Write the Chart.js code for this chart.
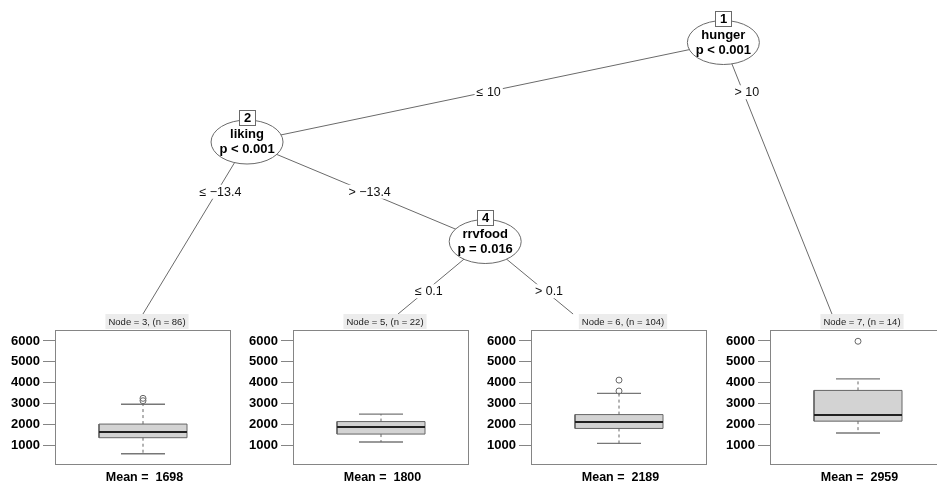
<!DOCTYPE html>
<html>
<head>
<meta charset="utf-8">
<script src="https://cdn.jsdelivr.net/npm/chart.js@4.4.1/dist/chart.umd.min.js"></script>
<style>
html, body { margin: 0; padding: 0; background: #ffffff; overflow: hidden; width: 937px; height: 483px; }
#wrap { position: relative; width: 937px; height: 483px; overflow: hidden; }
canvas { position: absolute; }
</style>
</head>
<body>
<div id="wrap">
  <canvas id="tree"></canvas>
  <canvas id="p0"></canvas>
  <canvas id="p1"></canvas>
  <canvas id="p2"></canvas>
  <canvas id="p3"></canvas>
</div>
<script>
// ---------------- DATA ----------------
const innerIds = [1, 2, 4];
const innerVars = ['hunger', 'liking', 'rrvfood'];
const innerP = ['p < 0.001', 'p < 0.001', 'p = 0.016'];
const edgeFrom = [1, 1, 2, 2, 4, 4];
const edgeTo = [2, 7, 3, 4, 5, 6];
const edgeLabels = ['\u2264 10', '> 10', '\u2264 \u221213.4', '> \u221213.4', '\u2264 0.1', '> 0.1'];
const termIds = [3, 5, 6, 7];
const termN = [86, 22, 104, 14];
const termMean = [1698, 1800, 2189, 2959];
const whiskerLow = [585, 1150, 1085, 1580];
const boxQ1 = [1355, 1530, 1800, 2150];
const boxMedian = [1625, 1865, 2115, 2450];
const boxQ3 = [2010, 2130, 2465, 3625];
const whiskerHigh = [2960, 2485, 3485, 4180];
const outliers = [[3130, 3245], [], [3595, 4120], [5985]];
const yTicks = [1000, 2000, 3000, 4000, 5000, 6000];

// ---------------- LAYOUT / STYLE ----------------
const L = {
  W: 937, H: 483,
  slot1Px: 147, slotPx: 238.17,
  depth0Px: 42.5, depthPx: 99.5,
  innerSlot: [3.42, 1.42, 2.42],
  innerDepth: [0, 1, 2],
  termSlot: [0.983, 2.054, 2.789, 3.876],
  termDepth: 2.729,
  ellRx: 36, ellRy: 22, idW: 16, idH: 15, idDy: 24.5, textDy: 7.5,
  labelDx: 3.5,
  panelLeft0: 55, panelStep: 238.2, panelW: 176, panelTop: 330, panelBottom: 465,
  axisW: 55, canvasTop: 310, padRight: 10,
  nodeLabelDx: 4, meanDx: 1.5,
  boxLeft: 0.25, boxRight: 0.75, capLeft: 0.375, capRight: 0.625, mid: 0.5
};
const FONT = 'Liberation Sans, Arial, Helvetica, sans-serif';
const LINE = '#6a6a6a';

function nodePos(id) {
  let k = innerIds.indexOf(id);
  if (k >= 0) return { x: L.innerSlot[k], y: L.innerDepth[k] };
  k = termIds.indexOf(id);
  return { x: L.termSlot[k], y: L.termDepth };
}

// ---------------- TREE ----------------
(function () {
  const cv = document.getElementById('tree');
  cv.width = L.W; cv.height = L.H;
  cv.style.width = L.W + 'px'; cv.style.height = L.H + 'px';
  cv.style.left = '0px'; cv.style.top = '0px';
  const xMin = 1 - L.slot1Px / L.slotPx;
  const yMin = -L.depth0Px / L.depthPx;

  const edgeSets = edgeFrom.map((f, i) => ({
    type: 'line',
    data: [nodePos(f), nodePos(edgeTo[i])],
    borderColor: LINE, borderWidth: 1, pointRadius: 0, fill: false, tension: 0
  }));

  const treePlugin = {
    id: 'treeNodes',
    afterDatasetsDraw(chart) {
      const ctx = chart.ctx;
      const xs = chart.scales.x, ys = chart.scales.y;
      ctx.save();
      ctx.font = '12.5px ' + FONT;
      ctx.textAlign = 'center';
      ctx.textBaseline = 'middle';
      edgeFrom.forEach((f, i) => {
        const p = nodePos(f), c = nodePos(edgeTo[i]);
        const yl = p.y + 0.5;
        const t = (yl - p.y) / (c.y - p.y);
        const xl = p.x + t * (c.x - p.x);
        const px = xs.getPixelForValue(xl) + L.labelDx;
        const py = ys.getPixelForValue(yl);
        const tw = ctx.measureText(edgeLabels[i]).width;
        ctx.fillStyle = '#ffffff';
        ctx.fillRect(px - tw / 2 - 2, py - 7, tw + 4, 14);
        ctx.fillStyle = '#111111';
        ctx.fillText(edgeLabels[i], px, py + 0.5);
      });
      innerIds.forEach((id, k) => {
        const p = nodePos(id);
        const cx = xs.getPixelForValue(p.x), cy = ys.getPixelForValue(p.y);
        ctx.beginPath();
        ctx.ellipse(cx, cy, L.ellRx, L.ellRy, 0, 0, Math.PI * 2);
        ctx.fillStyle = '#ffffff';
        ctx.fill();
        ctx.strokeStyle = LINE;
        ctx.lineWidth = 1;
        ctx.stroke();
        const bx = Math.round(cx - L.idW / 2) + 0.5, by = Math.round(cy - L.idDy - L.idH / 2) + 0.5;
        ctx.fillStyle = '#ffffff';
        ctx.fillRect(bx, by, L.idW, L.idH);
        ctx.strokeRect(bx, by, L.idW, L.idH);
        ctx.fillStyle = '#000000';
        ctx.font = 'bold 13px ' + FONT;
        ctx.fillText(String(id), bx + L.idW / 2, by + L.idH / 2 + 0.5);
        ctx.fillText(innerVars[k], cx, cy - L.textDy);
        ctx.fillText(innerP[k], cx, cy + L.textDy);
      });
      ctx.restore();
    }
  };

  new Chart(cv.getContext('2d'), {
    type: 'scatter',
    data: { datasets: edgeSets },
    options: {
      responsive: false, animation: false, events: [],
      layout: { padding: 0 },
      plugins: { legend: { display: false }, tooltip: { enabled: false }, title: { display: false } },
      scales: {
        x: { type: 'linear', display: false, min: xMin, max: xMin + L.W / L.slotPx },
        y: { type: 'linear', display: false, reverse: true, min: yMin, max: yMin + L.H / L.depthPx }
      }
    },
    plugins: [treePlugin]
  });
})();

// ---------------- TERMINAL PANELS ----------------
const allVals = whiskerLow.concat(whiskerHigh, outliers.flat());
const dMin = Math.min(...allVals), dMax = Math.max(...allVals);
const yScaleMin = dMin - 0.1 * (dMax - dMin);
const yScaleMax = dMax + 0.1 * (dMax - dMin);

function makePanel(i) {
  const cv = document.getElementById('p' + i);
  const left = L.panelLeft0 + i * L.panelStep - L.axisW;
  const w = L.axisW + L.panelW + L.padRight;
  const h = L.H - L.canvasTop;
  cv.width = w; cv.height = h;
  cv.style.width = w + 'px'; cv.style.height = h + 'px';
  cv.style.left = left + 'px'; cv.style.top = L.canvasTop + 'px';

  const panelPlugin = {
    id: 'panelDeco' + i,
    afterDatasetsDraw(chart) {
      const ctx = chart.ctx, a = chart.chartArea;
      ctx.save();
      ctx.strokeStyle = '#858585';
      ctx.lineWidth = 1;
      ctx.strokeRect(Math.round(a.left) + 0.5, Math.round(a.top) + 0.5,
                     Math.round(a.right - a.left) - 1, Math.round(a.bottom - a.top) - 1);
      const cx = (a.left + a.right) / 2;
      const lab = 'Node = ' + termIds[i] + ', (n = ' + termN[i] + ')';
      ctx.font = '9.5px ' + FONT;
      ctx.textAlign = 'center';
      ctx.textBaseline = 'middle';
      const tw = ctx.measureText(lab).width;
      const lx = cx + L.nodeLabelDx;
      ctx.fillStyle = '#ececec';
      ctx.fillRect(lx - tw / 2 - 3, a.top - 16, tw + 6, 15);
      ctx.fillStyle = '#222222';
      ctx.fillText(lab, lx, a.top - 8);
      ctx.font = 'bold 12.5px ' + FONT;
      ctx.fillStyle = '#000000';
      ctx.fillText('Mean =  ' + termMean[i], cx + L.meanDx, a.bottom + 12.5);
      ctx.restore();
    }
  };

  const hline = (x0, x1, y) => [{ x: x0, y: y }, { x: x1, y: y }];
  const vline = (x, y0, y1) => [{ x: x, y: y0 }, { x: x, y: y1 }];
  const lineDs = (data, color, width, dash) => ({
    type: 'line', xAxisID: 'x', yAxisID: 'y', data: data,
    borderColor: color, borderWidth: width, borderDash: dash || [],
    pointRadius: 0, fill: false, tension: 0, order: 1
  });
  // box drawn as a closed filled outline through the library's scales
  const boxOutline = [
    { x: L.boxLeft, y: boxQ1[i] }, { x: L.boxRight, y: boxQ1[i] },
    { x: L.boxRight, y: boxQ3[i] }, { x: L.boxLeft, y: boxQ3[i] }, { x: L.boxLeft, y: boxQ1[i] }
  ];

  new Chart(cv.getContext('2d'), {
    type: 'line',
    data: {
      datasets: [
        {
          type: 'line', xAxisID: 'x', yAxisID: 'y', data: boxOutline,
          backgroundColor: '#d3d3d3', borderColor: '#666666', borderWidth: 1,
          fill: 'shape', pointRadius: 0, tension: 0, order: 5
        },
        lineDs(vline(L.mid, boxQ3[i], whiskerHigh[i]), '#666666', 1, [3, 3]),
        lineDs(vline(L.mid, boxQ1[i], whiskerLow[i]), '#666666', 1, [3, 3]),
        lineDs(hline(L.capLeft, L.capRight, whiskerHigh[i]), '#777777', 1.3),
        lineDs(hline(L.capLeft, L.capRight, whiskerLow[i]), '#777777', 1.3),
        lineDs(hline(L.boxLeft, L.boxRight, boxMedian[i]), '#222222', 2),
        {
          type: 'scatter', xAxisID: 'x', yAxisID: 'y',
          data: outliers[i].map(v => ({ x: L.mid, y: v })),
          pointStyle: 'circle', pointRadius: 3, borderWidth: 1,
          borderColor: '#666666', backgroundColor: 'rgba(255,255,255,0)', showLine: false, order: 1
        }
      ]
    },
    options: {
      responsive: false, animation: false, events: [],
      layout: { padding: { top: L.panelTop - L.canvasTop, bottom: h - (L.panelBottom - L.canvasTop), left: 0, right: L.padRight } },
      plugins: { legend: { display: false }, tooltip: { enabled: false }, title: { display: false }, filler: { propagate: false } },
      scales: {
        x: { type: 'linear', display: false, min: 0, max: 1 },
        y: {
          type: 'linear', position: 'left', min: yScaleMin, max: yScaleMax,
          afterBuildTicks: s => { s.ticks = yTicks.map(v => ({ value: v })); },
          afterFit: s => { s.width = L.axisW; },
          grid: { display: true, drawOnChartArea: false, drawTicks: true, tickLength: 12, color: '#858585', lineWidth: 1 },
          border: { display: false },
          ticks: {
            autoSkip: false, padding: 3, color: '#000000',
            font: { family: FONT, size: 13, weight: 'bold' },
            callback: v => String(v)
          }
        }
      }
    },
    plugins: [panelPlugin]
  });
}
termIds.forEach((id, i) => makePanel(i));
</script>
</body>
</html>
